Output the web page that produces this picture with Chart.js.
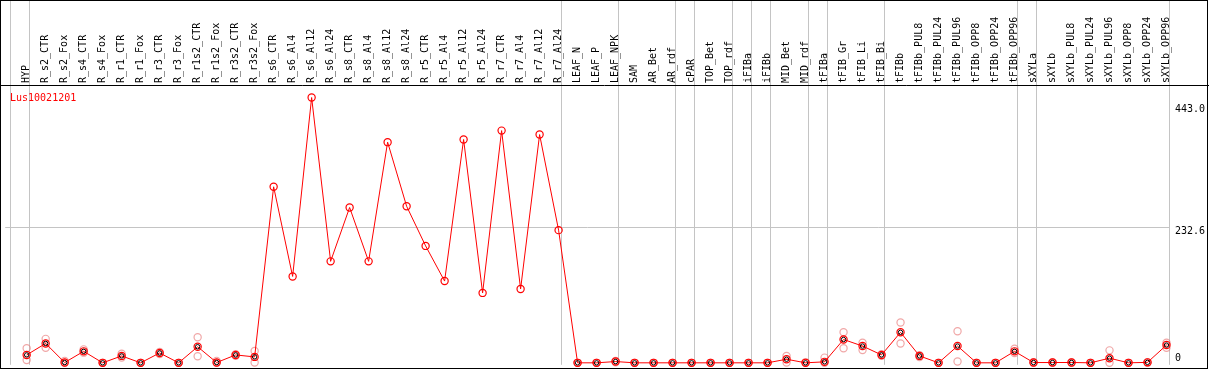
<!DOCTYPE html>
<html>
<head>
<meta charset="utf-8">
<script src="https://cdn.jsdelivr.net/npm/chart.js@4.4.1/dist/chart.umd.min.js"></script>
<style>
  html, body { margin: 0; padding: 0; background: #fff; }
  canvas { display: block; }
</style>
</head>
<body>
<canvas id="expr" width="1209" height="370"></canvas>
<script>
// probe id shown top-left
const GENE = 'Lus10021201';

// sample names, left to right
const SAMPLES = [
  'HYP', 'R_s2_CTR', 'R_s2_Fox', 'R_s4_CTR', 'R_s4_Fox', 'R_r1_CTR', 'R_r1_Fox', 'R_r3_CTR', 'R_r3_Fox',
  'R_r1s2_CTR', 'R_r1s2_Fox', 'R_r3s2_CTR', 'R_r3s2_Fox', 'R_s6_CTR', 'R_s6_Al4', 'R_s6_Al12', 'R_s6_Al24',
  'R_s8_CTR', 'R_s8_Al4', 'R_s8_Al12', 'R_s8_Al24', 'R_r5_CTR', 'R_r5_Al4', 'R_r5_Al12', 'R_r5_Al24',
  'R_r7_CTR', 'R_r7_Al4', 'R_r7_Al12', 'R_r7_Al24', 'LEAF_N', 'LEAF_P', 'LEAF_NPK', 'SAM', 'AR_Bet', 'AR_rdf',
  'cPAR', 'TOP_Bet', 'TOP_rdf', 'iFIBa', 'iFIBb', 'MID_Bet', 'MID_rdf', 'tFIBa', 'tFIB_Gr', 'tFIB_Li', 'tFIB_Bi',
  'tFIBb', 'tFIBb_PUL8', 'tFIBb_PUL24', 'tFIBb_PUL96', 'tFIBb_OPP8', 'tFIBb_OPP24', 'tFIBb_OPP96',
  'sXYLa', 'sXYLb', 'sXYLb_PUL8', 'sXYLb_PUL24', 'sXYLb_PUL96', 'sXYLb_OPP8', 'sXYLb_OPP24', 'sXYLb_OPP96'
];

// mean expression per sample
const MEANS = [
  13.6, 33.4, 0.5, 19.8, 0, 11.9, 0, 17.0, 0, 27.7, 0.5, 13.6, 10.2,
  303.4, 148.9, 457.2, 174.9, 267.7, 174.9, 380.3, 269.9, 201.5, 140.9, 384.9, 120.5,
  400.2, 127.3, 393.4, 228.7,
  0, 0, 2.2, 0, 0, 0, 0, 0, 0, 0, 0, 6.2, 0, 1.7, 40.2, 28.9, 13.6,
  52.6, 11.9, 0, 28.9, 0, 0, 19.8, 0.5, 0.5, 0.6, 0, 8.0, 0, 0.8, 30.6
];

// single replicates (null = none drawn)
const REP_HI = [
  25, 41.3, 3.4, 23.2, 0, 15.8, 0, 18.7, 0, 44.1, 3.4, 15, 20.4,
  null, null, null, null, null, null, null, null, null, null, null, null, null, null, null, null,
  0, 0, 3.4, 0, 0, 0, 0, 0, 0, 0, 0, 11.9, 1, 9, 52.6, 34.5, 15,
  69.6, 13, 0, 54.3, 0, 0, 24.3, 1, 1, 1, 0, 21.5, 0, 1, 34.5
];
const REP_LO = [
  5, 26, 0, 17.5, 0, 9, 0, 15, 0, 11.3, 0, 12, 0.5,
  null, null, null, null, null, null, null, null, null, null, null, null, null, null, null, null,
  0, 0, 1, 0, 0, 0, 0, 0, 0, 0, 0, 0.5, 0, 0, 25, 22, 12,
  33.4, 10, 0, 2.2, 0, 0, 17, 0, 0, 0, 0, 0, 0, 0, 26
];

// first sample index of each tissue group (a separator is drawn before it)
const GROUP_STARTS = [0, 1, 29, 32, 35, 36, 38, 39, 40, 42, 43, 46, 53, 54, 61];
const EDGE_SHIFT = 0.84;

// right-hand value labels
const Y_TICKS = [0, 232.6, 443.0];
const Y_LABELS = ['0', '232.6', '443.0'];
const Y_GRID = [232.6];

const FONT = 'DejaVu Sans Mono';
const GRID_GREY = '#c4c4c4';

const pts = arr => arr.map((v, i) => ({ x: i, y: v }));

// frame, header rule, gene name and right-hand value labels
const frame = {
  id: 'frame',
  afterDraw(chart) {
    const { ctx, chartArea, scales: { y } } = chart;
    ctx.save();
    ctx.font = '10px "' + FONT + '"';
    ctx.textBaseline = 'middle';
    ctx.textAlign = 'left';
    ctx.fillStyle = '#ff0000';
    ctx.fillText(GENE, 10, chartArea.top + 12);
    ctx.fillStyle = '#000';
    Y_TICKS.forEach((v, i) => {
      const py = Math.min(y.getPixelForValue(v) + 4, chartArea.bottom - 6);
      ctx.fillText(Y_LABELS[i], chartArea.right + 5, py);
    });
    ctx.strokeStyle = '#000';
    ctx.lineWidth = 1;
    ctx.beginPath();
    const ty = Math.round(chartArea.top) - 0.5;
    ctx.moveTo(0, ty);
    ctx.lineTo(chart.width, ty);
    ctx.stroke();
    ctx.strokeRect(0.5, 0.5, chart.width - 2, chart.height - 2);
    ctx.restore();
  }
};

new Chart(document.getElementById('expr'), {
  type: 'line',
  data: {
    datasets: [
      {
        label: 'sd',
        data: pts(MEANS.map((v, i) => (REP_HI[i] === null ? null : v))),
        showLine: false,
        pointStyle: 'circle',
        pointRadius: 2.2,
        pointBorderWidth: 1,
        pointBorderColor: '#000',
        pointBackgroundColor: 'rgba(0,0,0,0)',
        order: 0, clip: false,
      },
      {
        label: GENE,
        data: pts(MEANS),
        borderColor: '#ff0000',
        borderWidth: 1,
        pointRadius: 3.6,
        pointBorderWidth: 1.2,
        pointBorderColor: '#ff0000',
        pointBackgroundColor: 'rgba(0,0,0,0)',
        tension: 0,
        order: 1, clip: false,
      },
      {
        label: 'rep1',
        data: pts(REP_HI),
        showLine: false,
        pointRadius: 3.6,
        pointBorderWidth: 1.2,
        pointBorderColor: 'rgba(232,120,120,0.65)',
        pointBackgroundColor: 'rgba(0,0,0,0)',
        order: 2, clip: false,
      },
      {
        label: 'rep2',
        data: pts(REP_LO),
        showLine: false,
        pointRadius: 3.6,
        pointBorderWidth: 1.2,
        pointBorderColor: 'rgba(232,120,120,0.65)',
        pointBackgroundColor: 'rgba(0,0,0,0)',
        order: 2, clip: false,
      },
    ]
  },
  options: {
    responsive: false,
    animation: false,
    devicePixelRatio: 1,
    events: [],
    layout: { padding: { left: 1, right: 0, top: 0, bottom: 1 } },
    plugins: {
      tooltip: { enabled: false },
      legend: { display: false }
    },
    scales: {
      x: {
        type: 'linear',
        position: 'top',
        min: -1.13,
        max: 60.184,
        afterBuildTicks: s => {
          s.ticks = SAMPLES.map((_, i) => ({ value: i }))
            .concat(GROUP_STARTS.map(k => ({ value: k - EDGE_SHIFT })))
            .sort((a, b) => a.value - b.value);
        },
        afterFit: s => { s.height = 86; s.paddingLeft = 0; s.paddingRight = 0; },
        ticks: {
          autoSkip: false,
          minRotation: 90, maxRotation: 90,
          padding: -83,
          labelOffset: 12,
          color: '#000',
          font: { family: FONT, size: 10 },
          callback: v => (Number.isInteger(v) ? SAMPLES[v] : ''),
        },
        grid: {
          color: c => (c.tick && Number.isInteger(c.tick.value) ? 'rgba(0,0,0,0)' : GRID_GREY),
          lineWidth: 1,
          tickLength: 86,
          drawOnChartArea: true,
        },
        border: { display: false },
      },
      y: {
        type: 'linear',
        position: 'right',
        min: -3.4,
        max: 477.1,
        afterBuildTicks: s => { s.ticks = Y_TICKS.map(v => ({ value: v })); },
        afterFit: s => { s.width = 39; s.paddingTop = 0; s.paddingBottom = 0; },
        ticks: { display: false },
        grid: {
          color: c => (c.tick && Y_GRID.includes(c.tick.value) ? GRID_GREY : 'rgba(0,0,0,0)'),
          drawTicks: false,
        },
        border: { display: false },
      }
    }
  },
  plugins: [frame]
});
</script>
</body>
</html>
